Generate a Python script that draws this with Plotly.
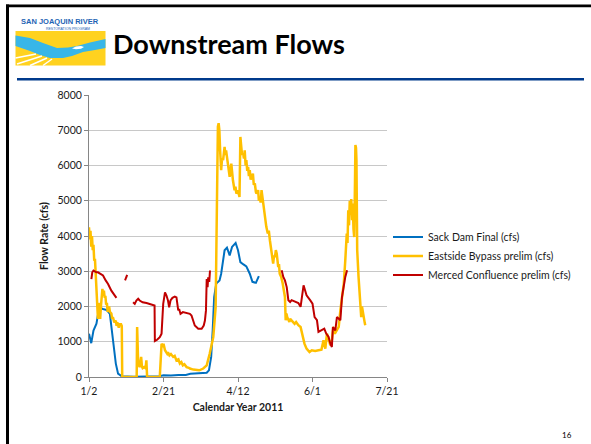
import pandas as pd
import plotly.graph_objects as go

# ---------------- data (day offset from 2011-01-02, flow in cfs) ----------------
START = "2011-01-02"

sack_days = [0, 1.5, 3, 5, 6.5, 8, 10, 12, 14, 16, 18, 19.5, 22, 30, 40, 47, 50, 55, 60, 65,
             68, 72, 76, 79, 80.5, 82, 83, 84, 85.4, 86.5, 87.6, 88.7, 89.9, 91, 92.6, 94.4,
             96, 98.4, 100, 101.6, 103.4, 105.6, 107.9, 109.7, 112, 112.8, 114]
sack_vals = [1230, 960, 1320, 1510, 1890, 1950, 1920, 1900, 1790, 1040, 380, 95, 20, 10, 15,
             20, 50, 40, 60, 55, 90, 100, 110, 120, 190, 570, 1320, 2270, 2650, 2700, 2740,
             2930, 3310, 3595, 3670, 3450, 3690, 3800, 3595, 3260, 3200, 3140, 2930, 2700,
             2670, 2740, 2860]

east_days = [0, 0.5, 1, 1.5, 2, 2.5, 3, 3.5, 4, 4.5, 5, 5.5, 6, 6.5, 7, 7.5, 8, 8.5, 9, 9.5,
             10, 10.5, 11, 11.5, 12, 12.5, 13, 13.5, 14, 15, 15.5, 16, 17, 18, 18.5, 19, 20,
             20.5, 21.5, 22, 22.3, 32, 32.3, 32.8, 33, 34, 34.5, 35, 35.5, 36, 37, 38, 38.5,
             39, 47.5, 48, 48.7, 49.5, 50, 51, 52.5, 53, 54, 55, 56.5, 57.5, 58.7, 60, 61, 62,
             63, 64, 65.5, 67, 67.7, 70, 72, 74, 76.7, 79, 81, 83.4, 85, 85.5, 86, 86.5, 87,
             87.5, 88, 88.7, 89.3, 90, 91, 91.5, 92, 93, 93.5, 94.4, 95.5, 96, 96.6, 97.7,
             98.3, 98.9, 100, 101, 101.6, 102, 102.7, 103.4, 104, 104.5, 105.1, 105.6, 106.2,
             106.8, 107.3, 107.9, 108.5, 109, 110, 110.6, 111.3, 112, 112.4, 113.5, 114,
             114.6, 115.2, 115.8, 117, 118, 119, 120, 120.7, 121.4, 122.5, 123.6, 124.2,
             124.8, 125.4, 126, 127, 127.5, 128, 129, 130, 131.5, 132, 132.5, 133, 134.5,
             135, 136, 137, 138, 139, 140.5, 142, 143.5, 144.6, 146, 147, 148, 149.5, 151.8,
             154, 156, 157.4, 158, 158.6, 159.7, 160.8, 162, 163, 164, 165, 166.4, 167.6,
             168.7, 169.8, 171, 172, 173, 173.5, 174, 174.5, 175, 175.5, 176, 176.6, 177,
             177.5, 178, 178.5, 178.8, 179.2, 179.5, 180, 180.9, 181.8, 182.2, 182.7, 183.2,
             183.6, 184, 184.5, 185, 185.4]
east_vals = [4245, 3900, 4150, 3700, 4000, 3600, 3750, 3300, 3350, 2900, 2800, 2200, 1650,
             2100, 1700, 1650, 2000, 2450, 2500, 2300, 2450, 2250, 2300, 2050, 2100, 1850,
             1950, 2000, 1850, 1800, 1650, 1700, 1550, 1600, 1450, 1550, 1400, 1500, 1500,
             1450, 0, 0, 1415, 800, 380, 280, 450, 570, 300, 250, 280, 250, 470, 0, 0, 500,
             940, 900, 940, 760, 660, 700, 610, 650, 570, 600, 470, 500, 380, 420, 330, 360,
             280, 260, 240, 210, 190, 190, 240, 330, 660, 1130, 1980, 4000, 7000, 7100, 7200,
             7000, 6430, 5870, 6200, 6150, 6530, 6300, 6430, 6150, 5900, 5680, 6050, 5800,
             5580, 5300, 5400, 5200, 5300, 5110, 6810, 6620, 6300, 6340, 6200, 6430, 6000,
             6150, 5850, 5960, 5700, 5870, 5600, 5680, 5770, 5450, 5490, 5250, 5200, 5300,
             5000, 5110, 4950, 5300, 4920, 4540, 4260, 4070, 4150, 3880, 3600, 3220, 3450,
             3400, 3600, 3500, 3120, 3200, 2930, 2840, 2650, 2270, 1610, 1800, 1700, 1560,
             1650, 1610, 1550, 1510, 1560, 1470, 1420, 1135, 946, 804, 760, 710, 757, 738,
             757, 776, 1040, 850, 804, 1230, 1040, 900, 1040, 1420, 1230, 1320, 1420, 1890,
             2270, 2650, 3310, 4070, 3800, 4730, 4300, 5000, 4600, 5050, 4450, 4920, 4200,
             3970, 5500, 6580, 6500, 6150, 3600, 2840, 2080, 1900, 1700, 2000, 1890, 1700,
             1610, 1550, 1470]

merced_days = [1.6, 2.2, 3, 4, 5, 6, 7.6, 9.4, 11.2, 12.8, 15, 17.3, 18.4, 20, 24.2, 25.6, 27,
               29.6, 30.7, 31.8, 33, 34, 36, 38.6, 40.8, 43, 44, 44.2, 45.7, 47.5, 48.7, 49.8,
               51, 52, 53, 53.8, 54.7, 56, 57.6, 58.7, 59.9, 60.5, 61.4, 63, 65.5, 67.7, 68.8,
               70, 71, 73.3, 75.6, 77, 77.8, 78.5, 79, 79.6, 80, 80.7, 81.2, 100, 129.3,
               130.4, 131.5, 132.7, 133.8, 135, 136, 138.3, 140.5, 142, 143, 144, 145, 146,
               148.4, 150, 151.4, 153, 154, 156.3, 157.9, 159.2, 160.8, 162, 163, 163.7,
               164.6, 165.3, 166.4, 167.6, 168.7, 169.8, 171, 172, 173.2]
merced_vals = [2780, 2970, 3020, 2990, 2970, 2970, 2920, 2880, 2740, 2640, 2450, 2310, 2245,
               None, 2740, 2900, None, 2120, 2075, 2170, 2220, 2170, 2120, 2100, 2075, 2057,
               2030, 1020, 1057, 1130, 1230, 2075, 2400, 2310, 2170, 1980, 2170, 2245, 2280,
               2260, 1890, 1930, 1790, 1840, 1810, 1790, 1745, 1600, 1460, 1370, 1370, 1460,
               1600, 1890, 2780, 2550, 2830, 2700, 3020, None, 3030, 2840, 2740, 2550, 2180,
               2130, 2180, 2130, 2100, 1990, 2270, 2600, 2460, 2320, 2180, 2080, 1700, 1610,
               1280, 1320, 1370, 1230, 1135, 946, 850, 1420, 1370, 1320, 1700, 1660, 1610,
               2270, 2650, 2840, 3030]

series_names = ["Sack Dam Final (cfs)", "Eastside Bypass prelim (cfs)",
                "Merced Confluence prelim (cfs)"]
series_colors = ["#0070C0", "#FFC000", "#C00000"]

tick_dates = ["2011-01-02", "2011-02-21", "2011-04-12", "2011-06-01", "2011-07-21"]
tick_labels = ["1/2", "2/21", "4/12", "6/1", "7/21"]
y_ticks = [0, 1000, 2000, 3000, 4000, 5000, 6000, 7000, 8000]


def to_dates(days):
    return pd.Timestamp(START) + pd.to_timedelta(days, unit="D")


FONT = "Lato"
fig = go.Figure()
for d, v, name, col, w in zip([sack_days, east_days, merced_days],
                              [sack_vals, east_vals, merced_vals],
                              series_names, series_colors, [2, 2.5, 2]):
    fig.add_trace(go.Scatter(x=to_dates(d), y=v, mode="lines", name=name,
                             line=dict(color=col, width=w), connectgaps=False))

# plot-area pixel geometry (591x444 page)
L, R, T, B = 89, 387, 95, 377


def px(x):
    return (x - L) / (R - L)


def py(y):
    return (B - y) / (B - T)


shapes = []
# slide frame (top and left black border)
shapes.append(dict(type="rect", xref="paper", yref="paper", x0=px(6), x1=px(595),
                   y0=py(7.3), y1=py(4.5), fillcolor="black", line=dict(width=0), layer="above"))
shapes.append(dict(type="rect", xref="paper", yref="paper", x0=px(6), x1=px(9),
                   y0=py(450), y1=py(4.5), fillcolor="black", line=dict(width=0), layer="above"))
# header rule
shapes.append(dict(type="rect", xref="paper", yref="paper", x0=px(17), x1=px(584),
                   y0=py(80.5), y1=py(78), fillcolor="#003A8C", line=dict(width=0)))
# logo: yellow field
shapes.append(dict(type="rect", xref="paper", yref="paper", x0=px(15.5), x1=px(105.5),
                   y0=py(65.5), y1=py(31), fillcolor="#FFD21F", line=dict(width=0)))


def path(points):
    s = "M " + " L ".join(f"{px(a):.5f},{py(b):.5f}" for a, b in points) + " Z"
    return s


river = [(15.5, 35.5), (30, 38), (43, 43), (57, 48), (68, 47.5), (77, 46), (90, 42.5),
         (105.5, 39), (105.5, 48), (95, 50), (83, 52), (72, 56), (63, 58), (50, 58),
         (40, 55), (30, 51), (15.5, 46)]
shapes.append(dict(type="path", xref="paper", yref="paper", path=path(river),
                   fillcolor="#38B6E8", line=dict(width=0)))
fish = [(72, 48.5), (76, 46.5), (81, 46), (84, 47), (81, 48.7), (76, 49.3)]
shapes.append(dict(type="path", xref="paper", yref="paper", path=path(fish),
                   fillcolor="white", line=dict(width=0)))
for (a, b, c, d) in [(42, 56, 17, 64), (47, 58, 30, 65.5), (52, 59, 43, 65.5),
                     (36, 54, 15.5, 58)]:
    shapes.append(dict(type="line", xref="paper", yref="paper", x0=px(a), y0=py(b),
                       x1=px(c), y1=py(d), line=dict(color="white", width=1.5)))

annotations = [
    dict(text="<b>Downstream Flows</b>", x=px(111), y=py(43.5), xref="paper", yref="paper",
         xanchor="left", yanchor="middle", showarrow=False,
         font=dict(family=FONT, size=27, color="black")),
    dict(text="<b>SAN JOAQUIN RIVER</b>", x=px(60), y=py(21.5), xref="paper", yref="paper",
         xanchor="center", yanchor="middle", showarrow=False,
         font=dict(family="Liberation Sans", size=7.5, color="#1E64B4")),
    dict(text="RESTORATION PROGRAM", x=px(68), y=py(29), xref="paper", yref="paper",
         xanchor="center", yanchor="middle", showarrow=False,
         font=dict(family="Liberation Sans", size=3.5, color="#1E64B4")),
    dict(text="16", x=px(567), y=py(435), xref="paper", yref="paper",
         xanchor="center", yanchor="middle", showarrow=False,
         font=dict(family=FONT, size=8, color="black")),
]

fig.update_layout(
    width=591, height=444,
    margin=dict(l=L, r=591 - R, t=T, b=444 - B),
    paper_bgcolor="white", plot_bgcolor="white",
    font=dict(family=FONT, size=10.5, color="#1a1a1a"),
    shapes=shapes, annotations=annotations,
    legend=dict(x=px(388), y=py(256), xanchor="left", yanchor="middle",
                font=dict(family=FONT, size=10.5, color="#1a1a1a"),
                bgcolor="rgba(0,0,0,0)", tracegroupgap=0, itemwidth=30),
    xaxis=dict(range=["2011-01-02", "2011-07-21"], tickvals=tick_dates, ticktext=tick_labels,
               showgrid=False, showline=True, linecolor="#868686", linewidth=1,
               ticks="outside", ticklen=4, tickcolor="#868686",
               title=dict(text="<b>Calendar Year 2011</b>", standoff=8,
                          font=dict(family=FONT, size=10.5, color="#1a1a1a")),
               zeroline=False),
    yaxis=dict(range=[0, 8000], tickvals=y_ticks, showgrid=True, gridcolor="#C8C8C8",
               gridwidth=1, showline=True, linecolor="#868686", linewidth=1,
               ticks="outside", ticklen=4, tickcolor="#868686", zeroline=False,
               title=dict(text="<b>Flow Rate (cfs)</b>", standoff=6,
                          font=dict(family=FONT, size=10.5, color="#1a1a1a"))),
)

fig.write_html("out.html")
